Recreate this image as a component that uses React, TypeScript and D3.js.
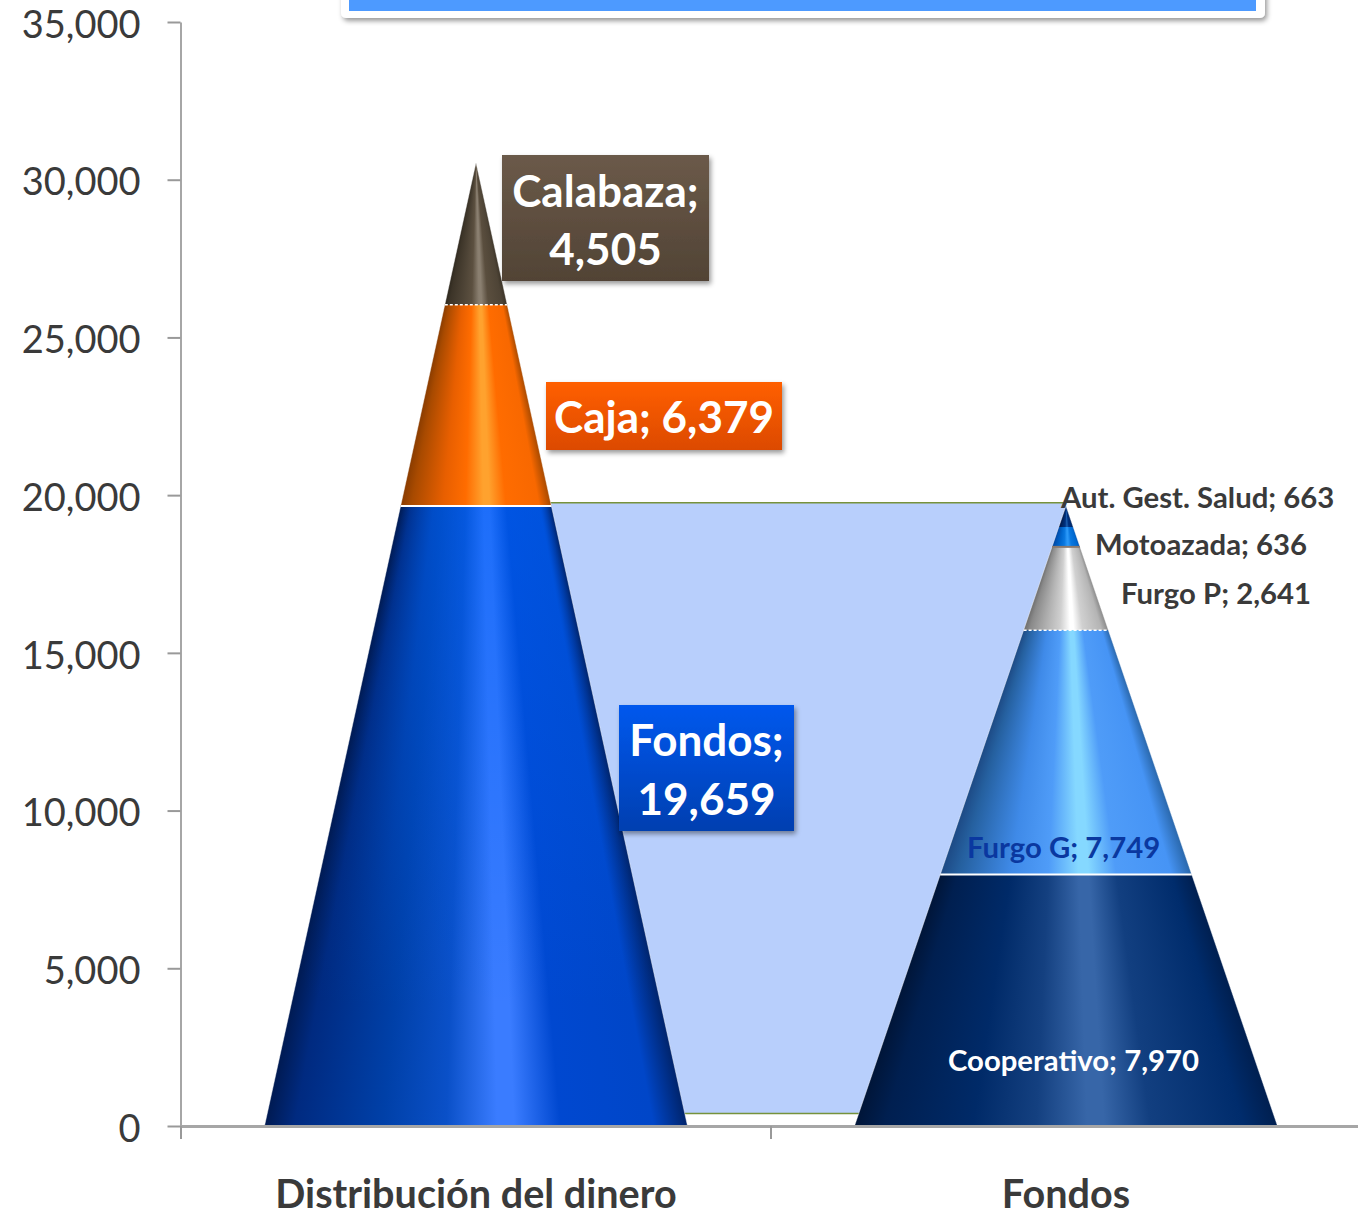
import React, { useRef, useEffect } from "react";
import * as d3 from "d3";

const WIDTH = 1358;
const HEIGHT = 1213;

const CATEGORIES = ["Distribución del dinero", "Fondos"];
const Y_TICKS = [0, 5000, 10000, 15000, 20000, 25000, 30000, 35000];

const DIST_NAMES = ["Fondos", "Caja", "Calabaza"];
const DIST_VALUES = [19659, 6379, 4505];
const FUND_NAMES = ["Cooperativo", "Furgo G", "Furgo P", "Motoazada", "Aut. Gest. Salud"];
const FUND_VALUES = [7970, 7749, 2641, 636, 663];

// series lines between the two columns
const LINK_TOP = 19760;
const LINK_BOTTOM = 400;

const STOP_OFFSETS = [0, 0.07, 0.28, 0.43, 0.55, 0.59, 0.7, 0.92, 1];

const DIST_COLORS = [
  ["#001a52", "#002a80", "#0040a8", "#0a50c8", "#3a7cff", "#3a7cff", "#0048d0", "#0046c8", "#00246c"],
  ["#8a3c00", "#a84a00", "#e85f00", "#ff6c00", "#ffa22e", "#ffa22e", "#ff6c00", "#f86800", "#a84a00"],
  ["#2e281e", "#3c3428", "#4e4436", "#5c5040", "#8a7f70", "#8a7f70", "#5a4e3e", "#4e4436", "#3c3428"],
];
const FUND_COLORS = [
  ["#001538", "#001f50", "#002a68", "#144080", "#3766a8", "#3766a8", "#123f80", "#002c6c", "#001f50"],
  ["#1d4a85", "#25609f", "#3f8ae8", "#4f9cf8", "#85d8ff", "#85d8ff", "#4f9cf8", "#4694f5", "#2a68ac"],
  ["#6e6e6e", "#8a8a8a", "#b4b4b4", "#d0d0d0", "#ffffff", "#ffffff", "#d0d0d0", "#b4b4b4", "#8a8a8a"],
  ["#00409a", "#0050b0", "#0068d0", "#0a78e0", "#2a98f8", "#2a98f8", "#0a78e0", "#0068d0", "#0050b0"],
  ["#000f38", "#001a50", "#002a6c", "#003080", "#1a5aa8", "#1a5aa8", "#003080", "#002a6c", "#001a50"],
];

const DIST_SEPARATORS = ["#ffffff", "dots"];
const FUND_SEPARATORS = ["#ffffff", "dots", "#8a7a70", "none"];

const FONT = "Lato, 'Open Sans', sans-serif";
const fmt = d3.format(",");

const x = d3.scaleBand<string>().domain(CATEGORIES).range([181, 1361]).paddingInner(0.283).paddingOuter(0.1415);
const y = d3.scaleLinear().domain([0, 35000]).range([1126, 22]);

function Cone({ id, category, values, colors, separators, glow }: any) {
  const cx = x(category)! + x.bandwidth() / 2;
  const total = d3.sum(values);
  const tops = Array.from(d3.cumsum(values)) as number[];
  const halfWidth = (py: number) => ((x.bandwidth() / 2) * (py - y(total))) / (y(0) - y(total));
  const rowOf = (i: number) => [Math.floor(y(tops[i])), Math.round(y(i === 0 ? 0 : tops[i - 1]))];

  return (
    <g>
      <defs>
        {colors.map((stops: string[], i: number) => (
          <linearGradient key={i} id={`${id}-${i}`} x1="0" x2="1" y1="0" y2="0">
            {stops.map((c, k) => (
              <stop key={k} offset={STOP_OFFSETS[k]} stopColor={c} />
            ))}
          </linearGradient>
        ))}
        <linearGradient id={`${id}-glow`} x1="0" x2="1" y1="0" y2="0">
          <stop offset="0" stopColor="#0060f5" stopOpacity={0} />
          <stop offset="0.22" stopColor="#0060f5" stopOpacity={1} />
          <stop offset="0.93" stopColor="#0060f5" stopOpacity={1} />
          <stop offset="1" stopColor="#0060f5" stopOpacity={0} />
        </linearGradient>
      </defs>
      {/* one row per pixel so the shading narrows with the cone */}
      {values.map((_: number, i: number) => {
        const [y1, y0] = rowOf(i);
        return d3.range(y1, y0).map((py) => {
          const w = halfWidth(py + 0.5);
          return <rect key={`${i}-${py}`} x={cx - w} y={py} width={w * 2} height={1} fill={`url(#${id}-${i})`} />;
        });
      })}
      {/* the big segment gets brighter towards its top */}
      {glow !== undefined &&
        d3.range(rowOf(glow)[0], rowOf(glow)[1]).map((py) => {
          const w = halfWidth(py + 0.5);
          const strength = d3.scaleLinear().domain([rowOf(glow)[0], rowOf(glow)[1] - 120]).range([0.5, 0]).clamp(true);
          return (
            <rect key={py} x={cx - w} y={py} width={w * 2} height={1} fill={`url(#${id}-glow)`} opacity={strength(py)} />
          );
        })}
      <path
        d={d3.line()([
          [cx - x.bandwidth() / 2, y(0)],
          [cx, y(total)],
          [cx + x.bandwidth() / 2, y(0)],
        ])!}
        fill="none"
        stroke="#fff"
        strokeOpacity={0.45}
        strokeWidth={1}
      />
      {separators.map((s: string, i: number) => {
        if (s === "none") return null;
        const py = y(tops[i]);
        const w = halfWidth(py);
        return (
          <line
            key={i}
            x1={cx - w}
            x2={cx + w}
            y1={py}
            y2={py}
            stroke={s === "dots" ? "#fff" : s}
            strokeWidth={s === "dots" ? 1.5 : 2}
            strokeDasharray={s === "dots" ? "3 2" : undefined}
          />
        );
      })}
    </g>
  );
}

function LabelBox({ id, left, top, right, bottom, from, to, lines }: any) {
  const mid = (left + right) / 2;
  return (
    <g>
      <defs>
        <linearGradient id={id} x1="0" x2="0" y1="0" y2="1">
          <stop offset="0" stopColor={from} />
          <stop offset="1" stopColor={to} />
        </linearGradient>
      </defs>
      <rect x={left} y={top} width={right - left} height={bottom - top} fill={`url(#${id})`} filter="url(#soft)" />
      {lines.map((l: any) => (
        <text key={l.text} x={mid} y={l.y} textAnchor="middle" fontFamily={FONT} fontWeight={700} fontSize={44} fill="#fff">
          {l.text}
        </text>
      ))}
    </g>
  );
}

function SideLabel({ text, px, py, fill }: any) {
  return (
    <text x={px} y={py} fontFamily={FONT} fontWeight={700} fontSize={29.3} fill={fill}>
      {text}
    </text>
  );
}

export default function App() {
  const yAxisRef = useRef<SVGGElement>(null);
  const xAxisRef = useRef<SVGGElement>(null);

  useEffect(() => {
    const yAxis = d3
      .axisLeft(y)
      .tickValues(Y_TICKS)
      .tickSize(13)
      .tickSizeOuter(0)
      .tickPadding(27)
      .tickFormat(fmt as any);
    const yg = d3.select(yAxisRef.current!).call(yAxis as any);
    yg.selectAll("text").attr("font-family", FONT).attr("font-size", 38).attr("fill", "#3a3a3a").attr("dy", "0.4em");
    yg.selectAll("line").attr("stroke", "#999").attr("stroke-width", 2);
    yg.select(".domain").attr("stroke", "#a6a6a6").attr("stroke-width", 2);

    const step = x.step();
    const boundary = d3.scaleLinear().domain([0, 2]).range([181, 181 + 2 * step]);
    const xAxis = d3.axisBottom(boundary).tickValues([0, 1, 2]).tickSize(13).tickSizeOuter(0).tickFormat(() => "");
    const xg = d3.select(xAxisRef.current!).call(xAxis as any);
    xg.selectAll("line").attr("stroke", "#999").attr("stroke-width", 2);
    xg.select(".domain").attr("stroke", "#a6a6a6").attr("stroke-width", 3);
  }, []);

  const leftCx = x(CATEGORIES[0])! + x.bandwidth() / 2;
  const rightCx = x(CATEGORIES[1])! + x.bandwidth() / 2;

  return (
    <svg width={WIDTH} height={HEIGHT} style={{ position: "absolute", left: 0, top: 0, display: "block" }}>
      <defs>
        <filter id="soft" x="-10%" y="-10%" width="125%" height="125%">
          <feDropShadow dx="2" dy="3" stdDeviation="2.5" floodColor="#000" floodOpacity="0.4" />
        </filter>
      </defs>

      {/* panel cut off by the top of the picture */}
      <rect x={341} y={-30} width={924} height={48} rx={5} fill="#fff" filter="url(#soft)" />
      <rect x={349} y={-30} width={907} height={41} fill="#4d9aff" />

      <rect x={leftCx} y={y(LINK_TOP)} width={rightCx - leftCx} height={y(LINK_BOTTOM) - y(LINK_TOP)} fill="#b8cffc" />
      <line x1={leftCx} x2={rightCx} y1={y(LINK_TOP)} y2={y(LINK_TOP)} stroke="#76923c" strokeWidth={1.5} />
      <line x1={leftCx} x2={rightCx} y1={y(LINK_BOTTOM)} y2={y(LINK_BOTTOM)} stroke="#76923c" strokeWidth={1.5} />

      <Cone id="dist" category={CATEGORIES[0]} values={DIST_VALUES} colors={DIST_COLORS} separators={DIST_SEPARATORS} glow={0} />
      <Cone id="fund" category={CATEGORIES[1]} values={FUND_VALUES} colors={FUND_COLORS} separators={FUND_SEPARATORS} />

      <g ref={yAxisRef} transform="translate(180.5,0)" />
      <g ref={xAxisRef} transform={`translate(-0.5,${y(0)})`} />

      {CATEGORIES.map((c) => (
        <text
          key={c}
          x={x(c)! + x.bandwidth() / 2}
          y={1208}
          textAnchor="middle"
          fontFamily={FONT}
          fontWeight={700}
          fontSize={39.6}
          fill="#3a3a3a"
        >
          {c}
        </text>
      ))}

      <LabelBox
        id="box-calabaza"
        left={502}
        top={155}
        right={709}
        bottom={281}
        from="#6b5a49"
        to="#514335"
        lines={[
          { text: `${DIST_NAMES[2]};`, y: 207 },
          { text: fmt(DIST_VALUES[2]), y: 265 },
        ]}
      />
      <LabelBox
        id="box-caja"
        left={546}
        top={382}
        right={782}
        bottom={450}
        from="#ff5f00"
        to="#dc4a00"
        lines={[{ text: `${DIST_NAMES[1]}; ${fmt(DIST_VALUES[1])}`, y: 433 }]}
      />
      <LabelBox
        id="box-fondos"
        left={619}
        top={705}
        right={794}
        bottom={831}
        from="#0058ee"
        to="#003fb0"
        lines={[
          { text: `${DIST_NAMES[0]};`, y: 756 },
          { text: fmt(DIST_VALUES[0]), y: 815 },
        ]}
      />

      <SideLabel text={`${FUND_NAMES[4]}; ${FUND_VALUES[4]}`} px={1061} py={508} fill="#3a3a3a" />
      <SideLabel text={`${FUND_NAMES[3]}; ${FUND_VALUES[3]}`} px={1095} py={555} fill="#3a3a3a" />
      <SideLabel text={`${FUND_NAMES[2]}; ${fmt(FUND_VALUES[2])}`} px={1121} py={604} fill="#3a3a3a" />
      <SideLabel text={`${FUND_NAMES[1]}; ${fmt(FUND_VALUES[1])}`} px={967} py={858} fill="#0a38a0" />
      <SideLabel text={`${FUND_NAMES[0]}; ${fmt(FUND_VALUES[0])}`} px={948} py={1071} fill="#ffffff" />
    </svg>
  );
}
